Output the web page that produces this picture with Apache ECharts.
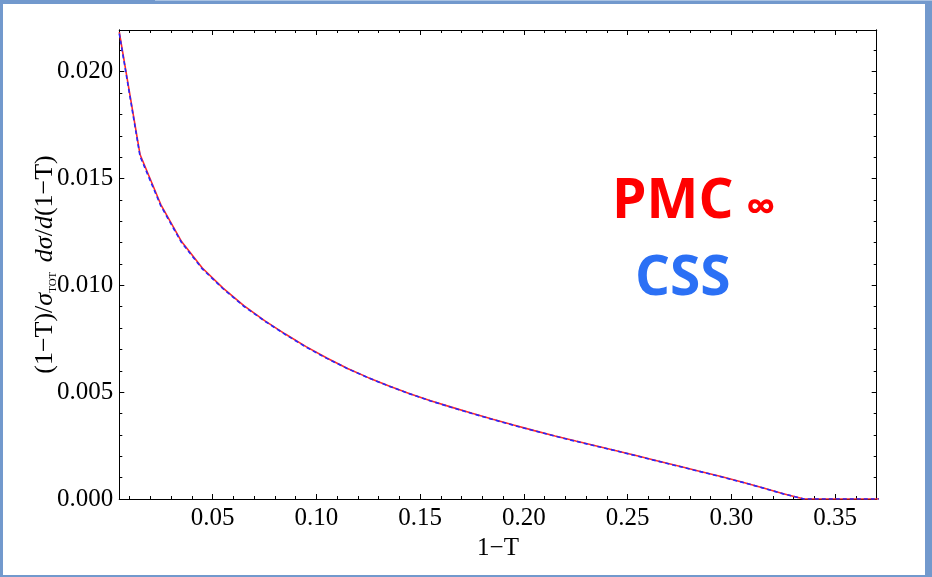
<!DOCTYPE html>
<html>
<head>
<meta charset="utf-8">
<script src="https://cdn.jsdelivr.net/npm/echarts@6/dist/echarts.min.js"></script>
<style>
  html, body { margin: 0; padding: 0; }
  body { width: 932px; height: 577px; background: #7299cd; position: relative; overflow: hidden; }
  #top-strip { position: absolute; left: 155px; top: 0; width: 777px; height: 1px; background: #aac3e3; }
  #chart { position: absolute; left: 3px; top: 4px; width: 922px; height: 571px; background: #ffffff; }
</style>
</head>
<body>
<div id="top-strip"></div>
<div id="chart"></div>
<script>
// Thrust distribution (1-T)/sigma_tot dsigma/d(1-T)
const xValues = [0.005, 0.015, 0.025, 0.035, 0.045, 0.055, 0.065, 0.075, 0.085, 0.095,
                 0.105, 0.115, 0.125, 0.135, 0.145, 0.155, 0.165, 0.175, 0.185, 0.195,
                 0.205, 0.215, 0.225, 0.235, 0.245, 0.255, 0.265, 0.275, 0.285, 0.295,
                 0.305, 0.315, 0.325, 0.335, 0.345, 0.355, 0.365, 0.375];
const pmcValues = [0.02185, 0.01612, 0.01378, 0.01205, 0.01081, 0.00987, 0.00905, 0.00835, 0.00772, 0.00713,
                   0.00660, 0.00611, 0.00568, 0.00529, 0.00493, 0.00460, 0.00430, 0.00401, 0.00373, 0.00346,
                   0.00320, 0.00295, 0.00271, 0.00248, 0.00225, 0.00201, 0.00177, 0.00153, 0.00129, 0.00105,
                   0.00080, 0.00053, 0.00025, 0, 0, 0, 0, 0];
const cssValues = [0.02178, 0.01604, 0.01372, 0.01200, 0.01077, 0.00984, 0.00902, 0.00833, 0.00770, 0.00711,
                   0.00658, 0.00610, 0.00567, 0.00528, 0.00492, 0.00459, 0.00429, 0.00400, 0.00372, 0.00345,
                   0.00319, 0.00294, 0.00270, 0.00247, 0.00224, 0.00200, 0.00176, 0.00152, 0.00128, 0.00104,
                   0.00079, 0.00052, 0.00024, 0, 0, 0, 0, 0];

const xMajorTicks = [0.05, 0.10, 0.15, 0.20, 0.25, 0.30, 0.35];
const xMinorTicks = [0.01, 0.02, 0.03, 0.04, 0.06, 0.07, 0.08, 0.09, 0.11, 0.12, 0.13, 0.14,
                     0.16, 0.17, 0.18, 0.19, 0.21, 0.22, 0.23, 0.24, 0.26, 0.27, 0.28, 0.29,
                     0.31, 0.32, 0.33, 0.34, 0.36, 0.37];
const yMajorTicks = [0, 0.005, 0.010, 0.015, 0.020];
const yMinorTicks = [0.001, 0.002, 0.003, 0.004, 0.006, 0.007, 0.008, 0.009, 0.011, 0.012,
                     0.013, 0.014, 0.016, 0.017, 0.018, 0.019, 0.021];

const X_MIN = 0.005, X_MAX = 0.37, Y_MIN = 0, Y_MAX = 0.02195;
const SERIF = '"Liberation Serif", "Times New Roman", serif';

function frameAxis(kind, position, ticks, len, withLabels) {
  const isX = kind === 'x';
  return {
    type: 'value',
    position: position,
    min: isX ? X_MIN : Y_MIN,
    max: isX ? X_MAX : Y_MAX,
    axisLine: { show: true, onZero: false, lineStyle: { color: '#000', width: 1 } },
    axisTick: { show: true, inside: true, length: len, customValues: ticks,
                lineStyle: { color: '#000', width: 1 } },
    axisLabel: withLabels ? {
      show: true, customValues: ticks,
      margin: isX ? 7 : 6,
      color: '#000', fontFamily: SERIF, fontSize: 25,
      formatter: v => v.toFixed(isX ? 2 : 3)
    } : { show: false },
    splitLine: { show: false }
  };
}

const xAxes = [
  Object.assign(frameAxis('x', 'bottom', xMajorTicks, 5, true), {
    name: '1\u2212T', nameLocation: 'middle', nameGap: 37, nameMoveOverlap: false,
    nameTextStyle: { color: '#000', fontFamily: SERIF, fontSize: 25 }
  }),
  frameAxis('x', 'bottom', xMinorTicks, 3, false),
  frameAxis('x', 'top', xMajorTicks, 5, false),
  frameAxis('x', 'top', xMinorTicks, 3, false)
];
const yAxes = [
  Object.assign(frameAxis('y', 'left', yMajorTicks, 5, true), {
    name: '(1\u2212T)/{it|\u03c3}{sub|TOT} {it|d\u03c3}/{it|d}(1\u2212T)',
    nameLocation: 'middle', nameGap: 61, nameMoveOverlap: false,
    nameTextStyle: {
      color: '#000', fontFamily: SERIF, fontSize: 26,
      rich: {
        it: { fontStyle: 'italic', fontFamily: SERIF, fontSize: 26, color: '#000' },
        sub: { fontFamily: SERIF, fontSize: 11, color: '#000', verticalAlign: 'bottom', padding: [0, 3, 0, 0] }
      }
    }
  }),
  frameAxis('y', 'left', yMinorTicks, 3, false),
  frameAxis('y', 'right', yMajorTicks, 5, false),
  frameAxis('y', 'right', yMinorTicks, 3, false)
];

const chart = echarts.init(document.getElementById('chart'), null, { renderer: 'canvas' });
chart.setOption({
  animation: false,
  backgroundColor: '#ffffff',
  grid: { left: 116.3, top: 26, right: 48.3, bottom: 76, containLabel: false },
  xAxis: xAxes,
  yAxis: yAxes,
  series: [
    {
      name: 'PMC\u221e', type: 'line', xAxisIndex: 0, yAxisIndex: 0,
      showSymbol: false, smooth: false, clip: true,
      lineStyle: { color: '#ff2a2a', width: 1.6 },
      data: xValues.map((x, i) => [x, pmcValues[i]])
    },
    {
      name: 'CSS', type: 'line', xAxisIndex: 0, yAxisIndex: 0,
      showSymbol: false, smooth: false, clip: true,
      lineStyle: { color: '#2626ff', width: 1.6, type: [4, 3] },
      data: xValues.map((x, i) => [x, cssValues[i]])
    }
  ],
  graphic: [
    { type: 'text', x: 609, y: 171, style: { text: 'PMC', fill: '#ff0000',
      font: 'bold 55px "Open Sans"', verticalAlign: 'top' } },
    { type: 'text', x: 743, y: 205, style: { text: '\u221e', fill: '#ff0000',
      font: 'bold 42px "Open Sans"', verticalAlign: 'middle' } },
    { type: 'text', x: 632, y: 248, style: { text: 'CSS', fill: '#2b70f5',
      font: 'bold 55px "Open Sans"', verticalAlign: 'top' } }
  ]
});
</script>
</body>
</html>
